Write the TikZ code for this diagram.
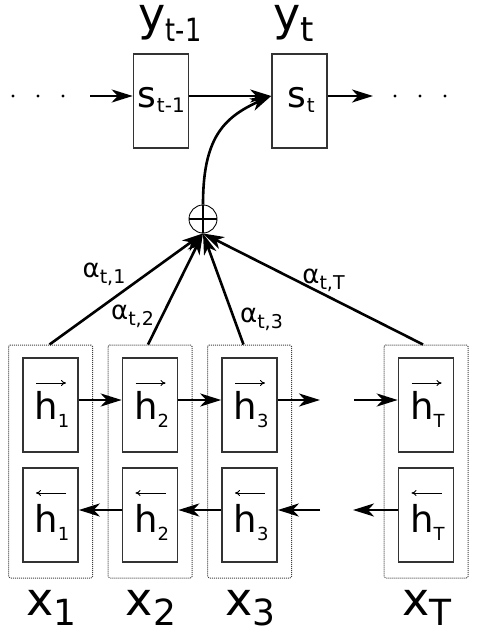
\documentclass[tikz,border=0pt]{standalone}
\usepackage{fontspec}
\usepackage{graphicx}
\setmainfont{DejaVu Sans}
\usetikzlibrary{arrows.meta}
\newcommand\lab[5]{{\fontsize{#3}{#3}\selectfont #1}\raisebox{-#5pt}{\fontsize{#4}{#4}\selectfont #2}}
\begin{document}
\begin{tikzpicture}[x=1pt,y=-1pt,
  cell/.style={draw=black!80,line width=1.6pt,minimum width=55pt,minimum height=94pt,inner sep=0pt},
  grp/.style={draw=black!75,dash pattern=on 1pt off 1pt,line width=1pt,rounded corners=1.5pt,minimum width=84pt,minimum height=233pt,inner sep=0pt},
  arr/.style={line width=2.6pt,-{Stealth[length=21pt,width=13pt,inset=6pt]}},
  txt/.style={inner sep=0pt,anchor=base},
  dirarr/.style={line width=1pt,-{To[length=5pt,width=6pt]}},
  dot/.style={circle,fill=black,inner sep=0pt,minimum size=3.2pt},
]
\useasboundingbox (0,0) rectangle (485,640);

% decoder
\node[cell] (s1) at (161,101) {};
\node[cell] (s2) at (299.5,101) {};
\node[txt] (s1t) at (161,107) {\lab{s}{\hspace{1pt}t-1}{36}{20}{5}};
\node[txt] (s2t) at (301,107) {\lab{s}{\hspace{1pt}t}{36}{20}{5}};
\node[txt] (y1) at (170,30) {\lab{y}{\scalebox{0.8}[1]{t-1}}{46}{32}{11}};
\node[txt] (y2) at (294,30) {\lab{y}{t}{46}{34}{11}};

\node[dot] (dl1) at (13,96) {};
\node[dot] (dl2) at (38,96) {};
\node[dot] (dl3) at (63,96) {};
\node[dot] (dr1) at (395,96) {};
\node[dot] (dr2) at (420,96) {};
\node[dot] (dr3) at (445,96) {};
\coordinate (la) at (90,96);
\coordinate (ra) at (373,96);
\draw[arr] (la) -- ([yshift=5pt]s1.west);
\draw[arr] ([yshift=5pt]s1.east) -- ([yshift=5pt]s2.west);
\draw[arr] ([yshift=5pt]s2.east) -- (ra);

% oplus
\node[circle,draw,line width=0.9pt,minimum size=28pt,inner sep=0pt] (op) at (203,219) {};
\draw[line width=2.4pt] (op.north) -- (op.south) (op.west) -- (op.east);
\draw[arr] (op.north) .. controls (203,140) and (222,118) .. ([yshift=5pt]s2.west);

% encoder
\foreach \n/\cx in {1/50.5, 2/150, 3/249.5, T/426} {
  \node[grp] (g\n) at (\cx,461.5) {};
  \node[cell] (f\n) at (\cx,405) {};
  \node[cell] (b\n) at (\cx,515) {};
  \node[txt] (fh\n) at (\cx+1.5,419) {\lab{h}{\n}{37}{18}{8}};
  \node[txt] (bh\n) at (\cx+1.5,532) {\lab{h}{\n}{37}{18}{8}};
  \draw[dirarr] ([xshift=-16pt,yshift=36pt]fh\n.base) -- ++(30,0);
  \draw[dirarr] ([xshift=14pt,yshift=39pt]bh\n.base) -- ++(-30,0);
  \node[txt] (x\n) at (\cx+1,615) {\lab{x}{\n}{46}{36}{10}};
}

\coordinate (fo) at (320,400);
\coordinate (fi) at (354,400);
\coordinate (bi) at (320,510);
\coordinate (bo) at (353,510);
\draw[arr] ([yshift=5pt]f1.east) -- ([yshift=5pt]f2.west);
\draw[arr] ([yshift=5pt]f2.east) -- ([yshift=5pt]f3.west);
\draw[arr] ([yshift=5pt]f3.east) -- (fo);
\draw[arr] (fi) -- ([yshift=5pt]fT.west);
\draw[arr] ([yshift=5pt]b2.west) -- ([yshift=5pt]b1.east);
\draw[arr] ([yshift=5pt]b3.west) -- ([yshift=5pt]b2.east);
\draw[arr] (bi) -- ([yshift=5pt]b3.east);
\draw[arr] ([yshift=5pt]bT.west) -- (bo);

% attention
\draw[arr] ([xshift=-1pt]g1.north) -- (op.south);
\draw[arr] ([xshift=-2pt]g2.north) -- (op.south);
\draw[arr] ([xshift=-6pt]g3.north) -- (op.south);
\draw[arr] ([xshift=-3pt]gT.north) -- (op.south);
\node[txt] (a1) at (104,277) {\lab{α}{t,1}{26}{19}{6}};
\node[txt] (a2) at (132.5,319) {\lab{α}{t,2}{26}{19}{6}};
\node[txt] (a3) at (261.5,322) {\lab{α}{t,3}{26}{19}{6}};
\node[txt] (aT) at (323.5,283) {\lab{α}{t,T}{26}{19}{6}};
\end{tikzpicture}
\end{document}
